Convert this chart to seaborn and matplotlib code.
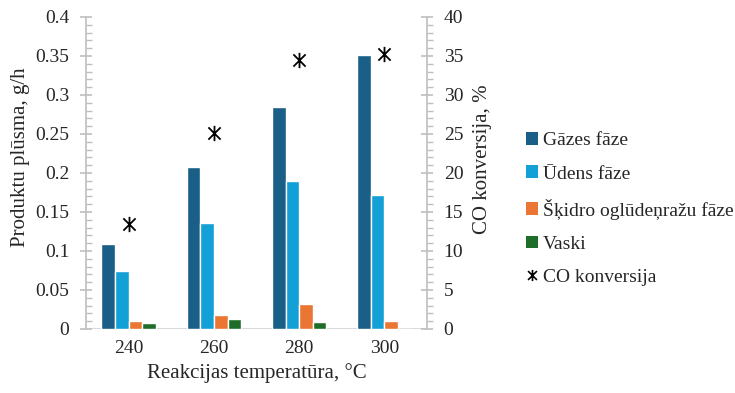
import matplotlib
matplotlib.use("Agg")
import matplotlib.pyplot as plt
from matplotlib.path import Path
from matplotlib.lines import Line2D
from matplotlib.patches import Patch
from matplotlib.ticker import MultipleLocator, FuncFormatter
import numpy as np
import pandas as pd
import seaborn as sns

temps = ["240", "260", "280", "300"]
gas = [0.109, 0.2075, 0.284, 0.3515]
water = [0.0737, 0.1358, 0.190, 0.1714]
liquid_hc = [0.0107, 0.0184, 0.0325, 0.0103]
wax = [0.0081, 0.0124, 0.0085, 0.0]
co_conv = [13.5, 25.1, 34.5, 35.2]

series = ["Gāzes fāze", "Ūdens fāze", "Šķidro oglūdeņražu fāze", "Vaski"]
colors = ["#1A5F87", "#12A0D7", "#EB7533", "#1E6E2A"]
conv_label = "CO konversija"

df = pd.DataFrame({
    "temp": temps * 4,
    "flow": gas + water + liquid_hc + wax,
    "phase": sum([[s] * 4 for s in series], []),
})

sns.set_style("white")
plt.rcParams["font.family"] = "serif"
plt.rcParams["font.serif"] = ["Liberation Serif", "DejaVu Serif"]
plt.rcParams["font.size"] = 14

fig = plt.figure(figsize=(7.35, 3.93), dpi=100)
ax = fig.add_axes([0.117, 0.163, 0.464, 0.794])

sns.barplot(data=df, x="temp", y="flow", hue="phase", order=temps,
            hue_order=series, palette=colors, width=0.64, gap=0,
            saturation=1, legend=False, ax=ax)
ax.set_xlim(-0.5, 3.5)
ax.set_ylim(0, 0.4)

# Excel-style star: an X with a vertical stroke
star = Path([(-1, -1), (1, 1), (-1, 1), (1, -1), (0, -1.25), (0, 1.25)],
            [Path.MOVETO, Path.LINETO, Path.MOVETO, Path.LINETO, Path.MOVETO, Path.LINETO])

ax2 = ax.twinx()
ax2.plot(np.arange(len(temps)), co_conv, linestyle="none", marker=star,
         markersize=11, markeredgewidth=1.3, color="black")
ax2.set_ylim(0, 40)
ax2.set_xlim(-0.5, 3.5)

grey = "#BFBFBF"
for a in (ax, ax2):
    for s in ("top", "bottom"):
        a.spines[s].set_visible(False)
    a.spines["left"].set_color(grey)
    a.spines["right"].set_color(grey)
    a.spines["left"].set_linewidth(1.2)
    a.spines["right"].set_linewidth(1.2)
ax.spines["right"].set_visible(False)
ax2.spines["left"].set_visible(False)
ax.axhline(0, color="#D9D9D9", linewidth=1.5, zorder=0.5)

ax.yaxis.set_major_locator(MultipleLocator(0.05))
ax.yaxis.set_minor_locator(MultipleLocator(0.01))
ax.yaxis.set_major_formatter(FuncFormatter(lambda v, p: f"{v:.2f}".rstrip("0").rstrip(".")))
ax2.yaxis.set_major_locator(MultipleLocator(5))
ax2.yaxis.set_minor_locator(MultipleLocator(1))

ax.tick_params(axis="y", which="major", direction="inout", length=8, color=grey, width=1.2, labelsize=14, pad=8)
ax.tick_params(axis="y", which="minor", direction="in", length=4, color=grey, width=1)
ax.tick_params(axis="x", length=0, labelsize=14, pad=8)
ax2.tick_params(axis="y", which="major", direction="inout", length=8, color=grey, width=1.2, labelsize=14, pad=8)
ax2.tick_params(axis="y", which="minor", direction="out", length=4, color=grey, width=1)

ax.set_xlabel("Reakcijas temperatūra, °C", fontsize=15, labelpad=4)
ax.set_ylabel("Produktu plūsma, g/h", fontsize=15)
ax2.set_ylabel("CO konversija, %", fontsize=15)
ax.yaxis.set_label_coords(-0.165, 0.55)
ax2.yaxis.set_label_coords(1.135, 0.545)

handles = [Patch(facecolor=c, edgecolor="none") for c in colors]
handles.append(Line2D([], [], linestyle="none", marker=star, markersize=8,
                      markeredgewidth=1.2, color="black"))
fig.legend(handles, series + [conv_label], loc="center left",
           bbox_to_anchor=(0.715, 0.468), frameon=False, fontsize=14,
           handlelength=0.65, handleheight=0.65, handletextpad=0.25,
           labelspacing=0.82, borderaxespad=0, borderpad=0)

fig.savefig("out.png", dpi=100)
